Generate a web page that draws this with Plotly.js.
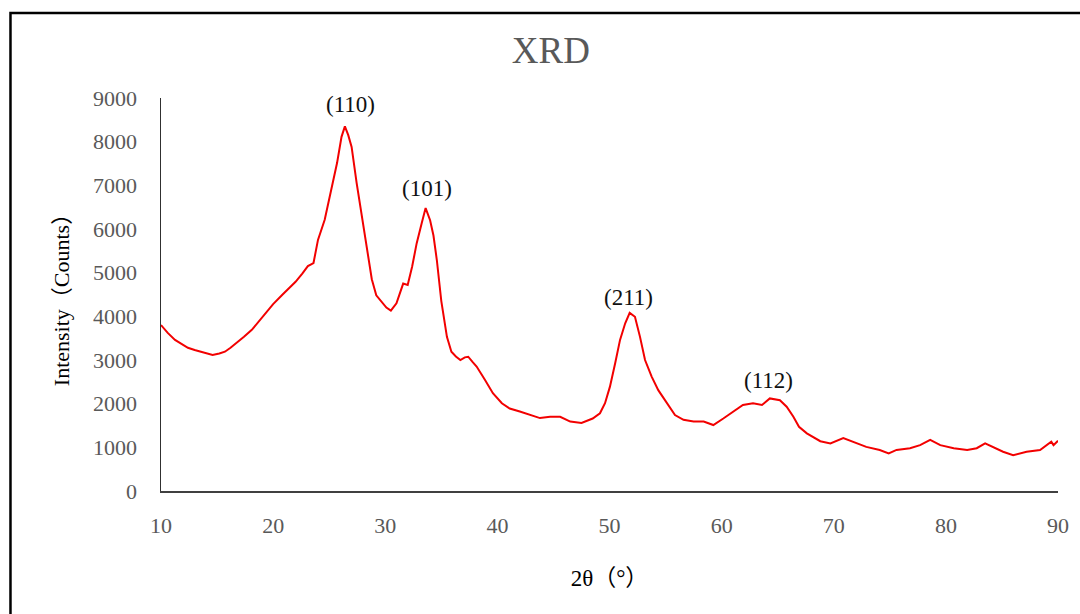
<!DOCTYPE html>
<html>
<head>
<meta charset="utf-8">
<script src="https://cdn.plot.ly/plotly-3.0.1.min.js"></script>
<style>
html,body{margin:0;padding:0;background:#fff;}
#chart{width:1080px;height:614px;}
</style>
</head>
<body>
<div id="chart"></div>
<script>
// 2θ (degrees)
const twoTheta = [
  10.0, 10.6, 11.25, 11.8, 12.4, 13.0, 13.6, 14.1, 14.6, 15.2,
  15.7, 16.2, 16.75, 17.4, 18.1, 18.7, 19.3, 20.0, 20.8, 21.4,
  22.0, 22.6, 23.1, 23.6, 24.0, 24.6, 25.1, 25.7, 26.1, 26.4,
  26.7, 27.0, 27.45, 27.9, 28.4, 28.8, 29.2, 29.7, 30.1, 30.5,
  31.0, 31.6, 32.0, 32.4, 32.8, 33.25, 33.6, 34.0, 34.3, 34.6,
  35.0, 35.5, 35.9, 36.3, 36.7, 37.1, 37.4, 37.8, 38.15, 38.9,
  39.6, 40.4, 41.1, 42.0, 42.9, 43.8, 44.7, 45.6, 46.5, 47.5,
  48.5, 49.15, 49.6, 50.04, 50.5, 50.94, 51.4, 51.8, 52.27, 52.72,
  53.17, 53.76, 54.35, 55.1, 55.84, 56.6, 57.5, 58.4, 59.26, 60.15,
  61.0, 61.9, 62.8, 63.6, 64.3, 65.2, 65.8, 66.4, 66.9, 67.6,
  68.8, 69.7, 70.85, 71.75, 72.9, 74.1, 74.9, 75.6, 76.8, 77.7,
  78.6, 79.5, 80.7, 81.9, 82.75, 83.5, 84.2, 85.1, 86.0, 87.2,
  88.4, 89.4, 89.6, 90.0
];
// Intensity (counts)
const intensity = [
  3800, 3620, 3460, 3380, 3280, 3230, 3190, 3150, 3115, 3150,
  3190, 3280, 3390, 3530, 3690, 3880, 4080, 4280, 4490, 4650,
  4790, 4980, 5150, 5220, 5750, 6210, 6820, 7510, 8110, 8350,
  8150, 7880, 7050, 6280, 5450, 4850, 4480, 4310, 4200, 4130,
  4300, 4750, 4720, 5140, 5670, 6130, 6480, 6200, 5850, 5290,
  4350, 3530, 3190, 3080, 3000, 3060, 3075, 2950, 2850, 2540,
  2240, 2010, 1890, 1820, 1740, 1670, 1700, 1700, 1590, 1560,
  1660, 1780, 2010, 2390, 2920, 3460, 3840, 4080, 3990, 3530,
  3000, 2620, 2310, 2010, 1740, 1630, 1590, 1590, 1510, 1660,
  1820, 1970, 2010, 1970, 2120, 2080, 1930, 1700, 1470, 1320,
  1140, 1090, 1210, 1130, 1010, 940, 860, 940, 980, 1050,
  1170, 1050, 980, 940, 980, 1090, 1010, 900, 820, 900,
  940, 1130, 1050, 1150
];
// Peak labels
const peakLabels = ["(110)", "(101)", "(211)", "(112)"];
const peakX = [26.86, 33.72, 51.65, 64.22];
const peakY = [8840, 6920, 4440, 2540];

const xTicks = [10, 20, 30, 40, 50, 60, 70, 80, 90];
const yTicks = [0, 1000, 2000, 3000, 4000, 5000, 6000, 7000, 8000, 9000];

const serif = '"Liberation Serif", "Times New Roman", serif';
const titleFont = '"Liberation Serif", "Noto Sans CJK SC", serif';

const trace = {
  x: twoTheta,
  y: intensity,
  type: 'scatter',
  mode: 'lines',
  line: {color: '#f20000', width: 2},
  hoverinfo: 'skip'
};

const annotations = peakLabels.map((t, i) => ({
  x: peakX[i], y: peakY[i], xref: 'x', yref: 'y',
  text: t, showarrow: false,
  font: {family: serif, size: 23, color: '#111'}
}));

const layout = {
  width: 1080, height: 614,
  margin: {l: 161, r: 22, t: 98, b: 123},
  paper_bgcolor: '#fff', plot_bgcolor: '#fff',
  showlegend: false,
  title: {
    text: 'XRD', xref: 'container', yref: 'container',
    x: 0.510, y: 1 - 50/614, xanchor: 'center', yanchor: 'middle',
    font: {family: serif, size: 37, color: '#595959'}
  },
  xaxis: {
    range: [10, 90], tickvals: xTicks, ticktext: xTicks.map(String),
    showgrid: false, zeroline: false,
    showline: true, linecolor: '#404040', linewidth: 1.5,
    ticks: 'outside', ticklen: 14, tickcolor: 'rgba(0,0,0,0)',
    tickfont: {family: serif, size: 22, color: '#595959'},
    title: {text: '2θ（°）', standoff: 33, font: {family: titleFont, size: 23, color: '#000'}}
  },
  yaxis: {
    range: [0, 9000], tickvals: yTicks, ticktext: yTicks.map(String),
    showgrid: false, zeroline: false,
    showline: true, linecolor: '#303030', linewidth: 1.5,
    ticks: 'outside', ticklen: 18, tickcolor: 'rgba(0,0,0,0)',
    tickfont: {family: serif, size: 22, color: '#595959'},
    title: {text: 'Intensity（Counts）', standoff: 17, font: {family: titleFont, size: 22, color: '#000'}}
  },
  annotations: annotations,
  shapes: [{
    type: 'rect', xref: 'paper', yref: 'paper',
    x0: -0.1678, x1: 1.06, y0: -0.45, y1: 1.2163,
    line: {color: '#000', width: 2.5}, fillcolor: 'rgba(0,0,0,0)'
  }]
};

Plotly.newPlot('chart', [trace], layout, {displayModeBar: false, staticPlot: true});
</script>
</body>
</html>
